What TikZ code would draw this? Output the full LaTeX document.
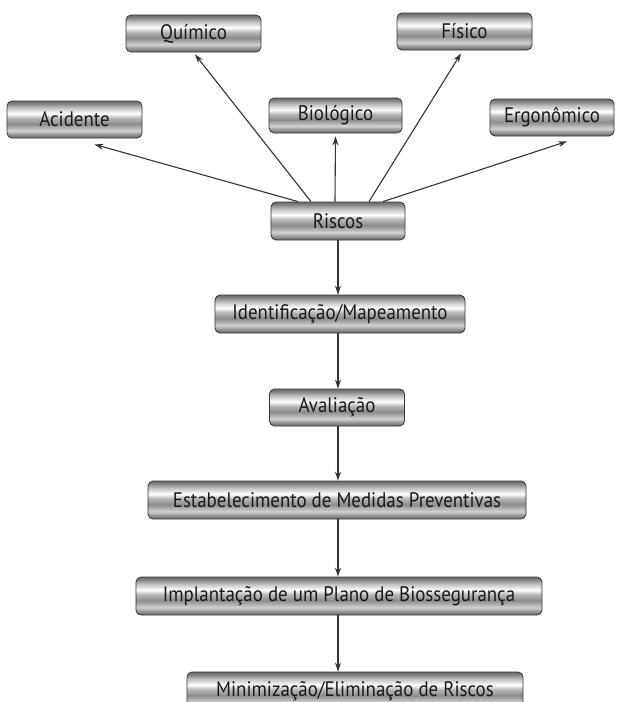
\documentclass[tikz,border=0pt]{standalone}
\usepackage{fontspec}
\setmainfont[FakeStretch=0.9]{PT Sans}
\usetikzlibrary{arrows.meta}

\pgfdeclareverticalshading{metal}{100bp}{color(0bp)=(black!60); color(25bp)=(black!60); color(29bp)=(black!45); color(35bp)=(black!18); color(44bp)=(black!45); color(52bp)=(black!28); color(58bp)=(white); color(66bp)=(black!25); color(72bp)=(black!50); color(75bp)=(black!58); color(100bp)=(black!58)}

\tikzset{
  caixa/.style={shade, shading=metal, draw=black!80, line width=0.8pt, rounded corners=5pt,
    minimum height=37pt, inner sep=0pt, text=black!90, font=\fontsize{21}{24}\selectfont},
  seta/.style={draw=black!80, line width=1.1pt, -{Stealth[open,length=9pt,width=6pt,inset=3pt]}}
}

\begin{document}
\begin{tikzpicture}[x=1pt, y=-1pt]

\useasboundingbox (0,0) rectangle (622,702);

\def\boxw{135pt}

% tipos de risco
\node [caixa, minimum width=\boxw] (quimico) at (193.5,33.5) {Químico};
\node [caixa, minimum width=\boxw] (fisico) at (464.5,31.5) {Físico};
\node [caixa, minimum width=\boxw] (acidente) at (74.5,119.5) {Acidente};
\node [caixa, minimum width=133pt, minimum height=35pt] (biologico) at (335.5,115.5) {Biológico};
\node [caixa, minimum width=124pt] (ergonomico) at (552,117.5) {Ergonômico};

% sequencia
\node [caixa, minimum width=134pt, minimum height=38pt] (riscos) at (338,221) {Riscos};
\node [caixa, minimum width=250pt, minimum height=38pt] (ident) at (340,314) {Identificação/Mapeamento};
\node [caixa, minimum width=\boxw] (avaliacao) at (337,407.5) {Avaliação};
\node [caixa, minimum width=378pt, minimum height=38pt] (medidas) at (337,500) {Estabelecimento de Medidas Preventivas};
\node [caixa, minimum width=406pt, minimum height=38pt] (plano) at (339,596) {Implantação de um Plano de Biossegurança};
\node [caixa, minimum width=336pt, minimum height=38pt] (minim) at (355,691) {Minimização/Eliminação de Riscos};

\draw [seta] ([xshift=-40pt]riscos.north) -- ([xshift=20pt, yshift=-6pt]acidente.south);
\draw [seta] ([xshift=-27pt]riscos.north) -- ([xshift=1.5pt, yshift=-2pt]quimico.south);
\draw [seta] ([xshift=-3pt]riscos.north) -- ([yshift=-3pt]biologico.south);
\draw [seta] ([xshift=31pt]riscos.north) -- ([xshift=-3.5pt, yshift=-3pt]fisico.south);
\draw [seta] ([xshift=45pt]riscos.north) -- ([xshift=15pt, yshift=-5pt]ergonomico.south);

\draw [seta] (riscos.south) -- (riscos.south |- ident.north);
\draw [seta] (ident.south -| riscos.south) -- (riscos.south |- avaliacao.north);
\draw [seta] (avaliacao.south -| riscos.south) -- (riscos.south |- medidas.north);
\draw [seta] (medidas.south -| riscos.south) -- (riscos.south |- plano.north);
\draw [seta] (plano.south -| riscos.south) -- (riscos.south |- minim.north);

\end{tikzpicture}
\end{document}
